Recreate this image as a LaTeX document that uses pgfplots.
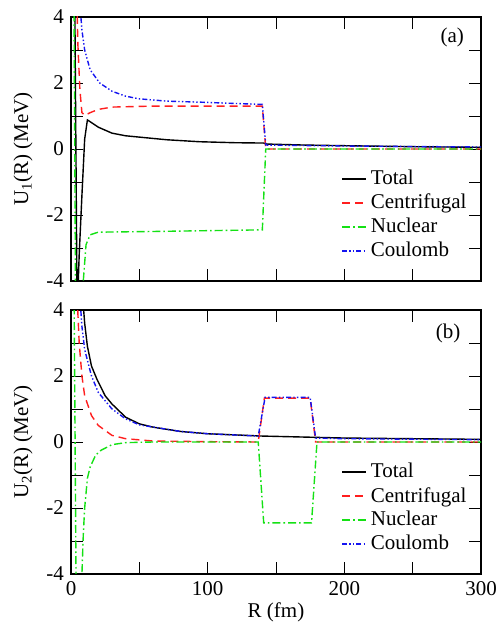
\documentclass[border=0pt]{standalone}
\usepackage{fontspec}
\setmainfont{Liberation Serif}
\usepackage{pgfplots}
\pgfplotsset{compat=1.18}

\definecolor{cred}{RGB}{255,30,30}
\definecolor{cgreen}{RGB}{20,225,20}
\definecolor{cblue}{RGB}{20,20,240}

\pgfplotsset{
  potax/.style={
    scale only axis, width=205pt, height=132pt,
    xmin=0, xmax=300, ymin=-4, ymax=4,
    xtick={0,100,200,300}, minor xtick={50,150,250},
    ytick={-4,-2,0,2,4}, minor ytick={-3,-1,1,3},
    tick align=inside, major tick length=6pt, minor tick length=6pt,
    every tick/.style={black, thin},
    axis line style={black, semithick},
    tick label style={font=\fontsize{10.5}{12}\selectfont},
    label style={font=\fontsize{10.5}{12}\selectfont},
    /pgf/number format/assume math mode=true,
    legend cell align=left,
    legend style={draw=none, fill=none, font=\fontsize{10.5}{11.5}\selectfont,
      row sep=-0.8pt, inner sep=1pt},
    legend image code/.code={\draw[#1, line width=0.8pt] (0pt,0pt) -- (12pt,0pt);},
    clip=true,
  },
  tot/.style={black, line width=0.7pt},
  cen/.style={cred, line width=0.7pt, dash pattern=on 4pt off 2.5pt},
  nuc/.style={cgreen, line width=0.7pt, dash pattern=on 4pt off 1.5pt on 0.8pt off 1.5pt},
  cou/.style={cblue, line width=0.7pt, dash pattern=on 2.5pt off 1.1pt on 0.7pt off 1.1pt on 0.7pt off 1.1pt},
}

\begin{document}
\begin{tikzpicture}
\useasboundingbox (0,0) rectangle (250pt,-312.5pt);

% panel (a)
\begin{axis}[potax, at={(35.5pt,-8.5pt)}, anchor=north west,
  xticklabels={},
  ylabel={U\textsubscript{1}(R) (MeV)},
  legend style={at={(axis cs:196,-0.45)}, anchor=north west},
]
\addplot[tot] coordinates {
  (2.5,6)(4.5,-5)(6,-3.2)(8,-1.4)(10,0.3)(12,0.88)(15,0.8)(20,0.66)
  (30,0.48)(40,0.4)(50,0.36)(70,0.28)(94,0.22)(120,0.19)(141,0.18)
  (143,0.15)(170,0.12)(200,0.1)(250,0.07)(300,0.05)
};
\addlegendentry{Total}
\addplot[cen] coordinates {
  (3.5,6)(5,3.2)(6.5,1.8)(8,1.1)(10,1.02)(14,1.1)(20,1.2)(30,1.27)
  (60,1.3)(140,1.3)(142.5,0)(300,0)
};
\addlegendentry{Centrifugal}
\addplot[nuc] coordinates {
  (2,6)(3.5,-6)(7.5,-6)(9,-4)(11,-2.9)(14,-2.6)(20,-2.52)(60,-2.5)
  (140,-2.45)(142.5,0)(300,0)
};
\addlegendentry{Nuclear}
\addplot[cou] coordinates {
  (6.5,4.4)(8,3.6)(10,3.0)(14,2.4)(21,2.0)(30,1.75)(40,1.6)(50,1.52)
  (70,1.45)(94,1.42)(120,1.38)(140,1.35)(142.5,0.12)(200,0.09)(300,0.06)
};
\addlegendentry{Coulomb}
\node[font=\fontsize{10.5}{12}\selectfont] at (axis description cs:0.93,0.924) {(a)};
\end{axis}

% panel (b)
\begin{axis}[potax, at={(35.5pt,-155pt)}, anchor=north west,
  xlabel={R (fm)},
  xlabel style={yshift=3pt},
  ylabel={U\textsubscript{2}(R) (MeV)},
  legend style={at={(axis cs:196,-0.45)}, anchor=north west},
]
\addplot[tot] coordinates {
  (8.5,4.4)(10,3.6)(12,2.9)(15,2.3)(19,1.9)(25,1.4)(30,1.15)(40,0.75)
  (50,0.55)(60,0.45)(80,0.32)(100,0.25)(140,0.18)(200,0.12)(300,0.08)
};
\addlegendentry{Total}
\addplot[cen] coordinates {
  (4.5,4.4)(6,3)(8,2)(10,1.4)(15,0.8)(20,0.5)(30,0.2)(40,0.1)(60,0.03)
  (100,0.01)(137,0)(141.5,1.33)(175,1.33)(179,0)(300,0)
};
\addlegendentry{Centrifugal}
\addplot[nuc] coordinates {
  (2,6)(4,-6)(7,-6)(8,-4)(9,-2.8)(10,-2)(12,-1.1)(14,-0.76)(18,-0.4)
  (22,-0.25)(30,-0.08)(40,-0.02)(60,0)(137,0)(141,-2.45)(176,-2.45)
  (180,0)(300,0)
};
\addlegendentry{Nuclear}
\addplot[cou] coordinates {
  (6.5,4.4)(8,3.5)(10,2.8)(15,2.0)(20,1.5)(30,1.0)(40,0.7)(50,0.52)
  (80,0.32)(100,0.25)(137,0.18)(142,1.35)(175,1.35)(179,0.12)(200,0.1)
  (300,0.07)
};
\addlegendentry{Coulomb}
\node[font=\fontsize{10.5}{12}\selectfont] at (axis description cs:0.92,0.91) {(b)};
\end{axis}
\end{tikzpicture}
\end{document}
